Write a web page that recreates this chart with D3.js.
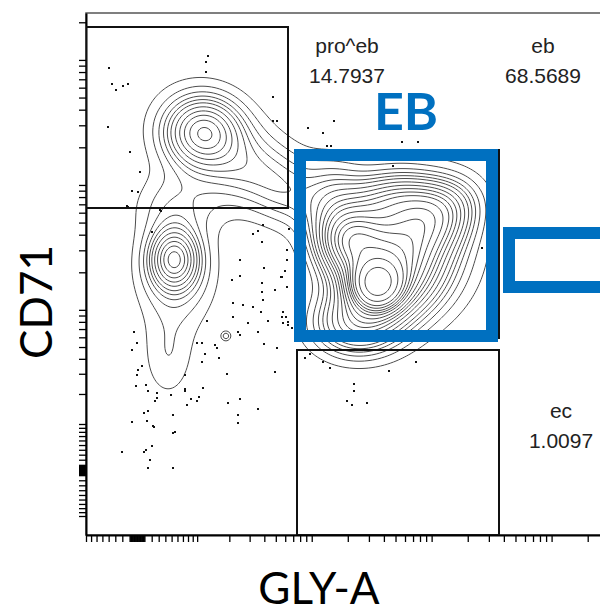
<!DOCTYPE html>
<html>
<head>
<meta charset="utf-8">
<script src="https://cdn.jsdelivr.net/npm/d3@7"></script>
<style>
    body { margin: 0; background: #fff; }
    svg { display: block; }
</style>
</head>
<body>
<svg id="chart" width="600" height="613"></svg>
<script>
(function () {
    // all event data is in display channels: x 0..1032, y 0..1044
    var xChannels = [0, 1032],
        yChannels = [0, 1044];

    // biexponential-ish axes (asinh with a cofactor)
    var xCofactor = 70, xOffset = 102, xGain = 104.2;
    var yCofactor = 105, yOffset = 130, yGain = 108.6;

    var tickMantissas = [1, 2, 3, 4, 5, 6, 7, 8, 9];
    var tickDecades = [1, 10, 100, 1000, 10000, 100000];

    // density components [cx, cy, sx, sy, rho, weight]
    var popProEb = [
        [234, 806, 50, 46, 0, 0.06],
        [256, 780, 80, 76, -0.25, 0.06],
        [344, 726, 60, 50, 0, 0.025],
    ];
    var popMid = [
        [176, 552, 32, 40, 0, 0.035],
        [180, 524, 56, 80, 0, 0.045],
        [164, 350, 36, 60, 0, 0.012],
        [176, 660, 56, 44, 0, 0.015],
    ];
    var popBridge = [
        [400, 680, 44, 46, 0, 0.015],
    ];
    var popIsland = [
        [280, 398, 7, 7, 0, 0.0004],
    ];
    var popEb = [
        [582, 502, 30, 30, 0, 0.08],
        [598, 530, 62, 62, 0, 0.15],
        [628, 580, 86, 86, 0, 0.20],
        [700, 630, 52, 48, 0.3, 0.05],
        [490, 660, 44, 60, 0, 0.035],
        [528, 590, 40, 40, 0, 0.05],
        [540, 420, 60, 44, 0, 0.06],
        [628, 670, 70, 36, 0, 0.04],
    ];

    var levelStep = 0.05,
        levelCount = 19;

    var outliers = [
        [46, 934], [244, 958], [240, 946], [240, 926], [52, 902], [60, 890], [74, 898], [84, 902],
        [374, 876], [374, 828], [382, 828], [44, 816], [88, 766], [108, 726], [92, 688], [104, 686],
        [84, 656], [150, 648], [444, 814], [474, 804], [496, 828], [632, 786], [664, 786], [482, 778],
        [490, 778], [614, 738], [406, 612], [402, 570], [392, 516], [402, 496], [394, 446], [400, 436],
        [404, 426], [412, 414], [792, 574], [82, 658], [148, 650], [132, 606], [354, 620], [344, 608],
        [334, 602], [352, 586], [308, 550], [308, 518], [292, 510], [356, 534], [402, 550], [398, 528],
        [390, 516], [352, 504], [378, 490], [352, 486], [354, 470], [294, 464], [314, 460], [334, 456],
        [350, 446], [294, 436], [324, 424], [364, 428], [392, 436], [394, 424], [404, 420], [242, 428],
        [344, 406], [304, 406], [308, 400], [258, 380], [262, 374], [222, 384], [232, 384], [96, 406],
        [102, 384], [92, 370], [238, 362], [266, 354], [232, 346], [356, 382], [382, 374], [112, 338],
        [104, 330], [102, 320], [282, 322], [198, 320], [378, 326], [100, 298], [120, 300], [124, 288],
        [142, 284], [170, 280], [198, 292], [198, 288], [234, 294], [210, 272], [226, 276], [222, 268],
        [202, 260], [142, 274], [138, 268], [284, 264], [308, 272], [344, 252], [116, 244], [124, 248],
        [174, 240], [304, 240], [304, 224], [92, 226], [122, 228], [134, 218], [136, 216], [174, 204],
        [178, 206], [72, 166], [116, 166], [120, 170], [132, 178], [128, 150], [124, 134], [174, 134],
        [438, 354], [448, 362], [474, 346], [488, 334], [606, 328], [660, 346], [536, 302], [536, 288],
        [522, 268], [532, 260], [562, 264],
    ];

    // gates [x0, x1] / [y0, y1] in channels
    var gateNames = ['pro^eb', 'eb', 'ec'];
    var gateFreqs = ['14.7937', '68.5689', '1.0097'];
    var gateBoxes = [[0, 404], [422, 826], [422, 826]];
    var gateRanges = [[654, 1016], [394, 770], [0, 370]];
    var gateLabelAt = [[522, 964], [914, 964], [950, 234]];

    // hand-drawn highlight boxes [x0, x1, y0, y1]
    var highlightBoxes = [[428, 812, 398, 760], [846, 1100, 496, 604]];

    var svg = d3.select('#chart');

    var x = d3.scaleLinear().domain(xChannels).range([86, 602]);
    var y = d3.scaleLinear().domain(yChannels).range([535, 13]);

    var xCh = v => xOffset + xGain * Math.asinh(v / xCofactor);
    var yCh = v => yOffset + yGain * Math.asinh(v / yCofactor);

    function tickChannels(chFn, range) {
        var vals = [0];
        tickDecades.forEach(function (d) {
            tickMantissas.forEach(function (m) {
                vals.push(m * d, -m * d);
            });
        });
        return vals.map(chFn).filter(c => c >= range[0] && c <= range[1]);
    }

    // density grid, 1 cell per pixel
    var step = 2,
        nx = Math.ceil(xChannels[1] / step),
        ny = Math.ceil(yChannels[1] / step);
    var grid = new Float64Array(nx * ny);
    [].concat(popProEb, popMid, popBridge, popIsland, popEb).forEach(function (c) {
        var cx = c[0], cy = c[1], sx = c[2], sy = c[3], r = c[4], w = c[5];
        var k = 1 / (2 * (1 - r * r));
        var norm = w / (2 * Math.PI * sx * sy * Math.sqrt(1 - r * r));
        var i0 = Math.max(0, Math.floor((cx - 5 * sx) / step)),
            i1 = Math.min(nx - 1, Math.ceil((cx + 5 * sx) / step)),
            j0 = Math.max(0, Math.floor((cy - 5 * sy) / step)),
            j1 = Math.min(ny - 1, Math.ceil((cy + 5 * sy) / step));
        for (var j = j0; j <= j1; j++) {
            var dy = (j * step - cy) / sy;
            for (var i = i0; i <= i1; i++) {
                var dx = (i * step - cx) / sx;
                grid[j * nx + i] += norm * Math.exp(-k * (dx * dx - 2 * r * dx * dy + dy * dy));
            }
        }
    });

    // equal probability levels
    var sorted = Float64Array.from(grid).sort().reverse();
    var total = d3.sum(grid);
    var levels = [];
    for (var i = 0, cum = 0, n = 1; i < sorted.length && n <= levelCount; i++) {
        cum += sorted[i];
        while (n <= levelCount && cum >= n * levelStep * total) {
            levels.push(sorted[i]);
            n += 1;
        }
    }

    var contours = d3.contours().size([nx, ny]).thresholds(levels)(grid);
    var proj = d3.geoTransform({
        point: function (px, py) {
            this.stream.point(x((px - 0.5) * step), y((py - 0.5) * step));
        }
    });

    svg.append('clipPath').attr('id', 'plotclip')
        .append('rect')
            .attr('x', 86).attr('y', 13)
            .attr('width', 516).attr('height', 522);

    var plot = svg.append('g').attr('clip-path', 'url(#plotclip)');

    plot.selectAll('path.contour')
        .data(contours)
        .enter().append('path')
            .classed('contour', true)
            .attr('d', d3.geoPath(proj))
            .attr('fill', 'none')
            .attr('stroke', '#4d4d4d')
            .attr('stroke-width', 1);

    plot.selectAll('rect.event')
        .data(outliers)
        .enter().append('rect')
            .classed('event', true)
            .attr('x', d => x(d[0]) - 1)
            .attr('y', d => y(d[1]) - 1)
            .attr('width', 2)
            .attr('height', 2)
            .attr('fill', '#111');

    // frame
    svg.append('rect')
        .attr('x', 86).attr('y', 13)
        .attr('width', 516).attr('height', 522)
        .attr('fill', 'none')
        .attr('stroke', '#555')
        .attr('stroke-width', 1.5);

    var yAxis = d3.axisLeft(y)
        .tickValues(tickChannels(yCh, yChannels))
        .tickFormat('')
        .tickSize(7)
        .tickSizeOuter(0);
    var xAxis = d3.axisBottom(x)
        .tickValues(tickChannels(xCh, xChannels))
        .tickFormat('')
        .tickSize(7)
        .tickSizeOuter(0);

    svg.append('g').attr('transform', 'translate(86,0)').call(yAxis)
        .call(g => g.select('.domain').attr('stroke', '#000').attr('stroke-width', 2))
        .call(g => g.selectAll('.tick line').attr('stroke', '#000').attr('stroke-width', 1.3));
    svg.append('g').attr('transform', 'translate(0,535)').call(xAxis)
        .call(g => g.select('.domain').attr('stroke', '#000').attr('stroke-width', 2))
        .call(g => g.selectAll('.tick line').attr('stroke', '#000').attr('stroke-width', 1.3));

    // gates
    var gates = svg.append('g').attr('clip-path', 'url(#plotclip)');
    gateBoxes.forEach(function (gx, i) {
        var gy = gateRanges[i];
        gates.append('rect')
            .attr('x', x(gx[0]))
            .attr('y', y(gy[1]))
            .attr('width', x(gx[1]) - x(gx[0]))
            .attr('height', y(gy[0]) - y(gy[1]))
            .attr('fill', 'none')
            .attr('stroke', '#111')
            .attr('stroke-width', 2);
    });

    gateLabelAt.forEach(function (p, i) {
        var t = svg.append('text')
            .attr('x', x(p[0]))
            .attr('y', y(p[1]))
            .attr('text-anchor', 'middle')
            .attr('font-family', 'Liberation Sans, Arial, sans-serif')
            .attr('font-size', 21)
            .attr('fill', '#222');
        t.append('tspan').text(gateNames[i]);
        t.append('tspan')
            .attr('x', x(p[0]))
            .attr('dy', 30)
            .text(gateFreqs[i]);
    });

    highlightBoxes.forEach(function (b) {
        svg.append('rect')
            .attr('x', x(b[0]))
            .attr('y', y(b[3]))
            .attr('width', x(b[1]) - x(b[0]))
            .attr('height', y(b[2]) - y(b[3]))
            .attr('fill', 'none')
            .attr('stroke', '#0070C0')
            .attr('stroke-width', 12);
    });

    svg.append('text')
        .attr('x', 406)
        .attr('y', 130)
        .attr('text-anchor', 'middle')
        .attr('font-family', 'Lato, sans-serif')
        .attr('font-weight', 'bold')
        .attr('font-size', 52)
        .attr('fill', '#0070C0')
        .text('EB');

    svg.append('text')
        .attr('transform', 'translate(52,302) rotate(-90)')
        .attr('text-anchor', 'middle')
        .attr('font-family', 'Lato, sans-serif')
        .attr('font-size', 44)
        .attr('fill', '#000')
        .text('CD71');

    svg.append('text')
        .attr('x', 319)
        .attr('y', 604)
        .attr('text-anchor', 'middle')
        .attr('font-family', 'Lato, sans-serif')
        .attr('font-size', 44)
        .attr('fill', '#000')
        .text('GLY-A');
}());
</script>
</body>
</html>
